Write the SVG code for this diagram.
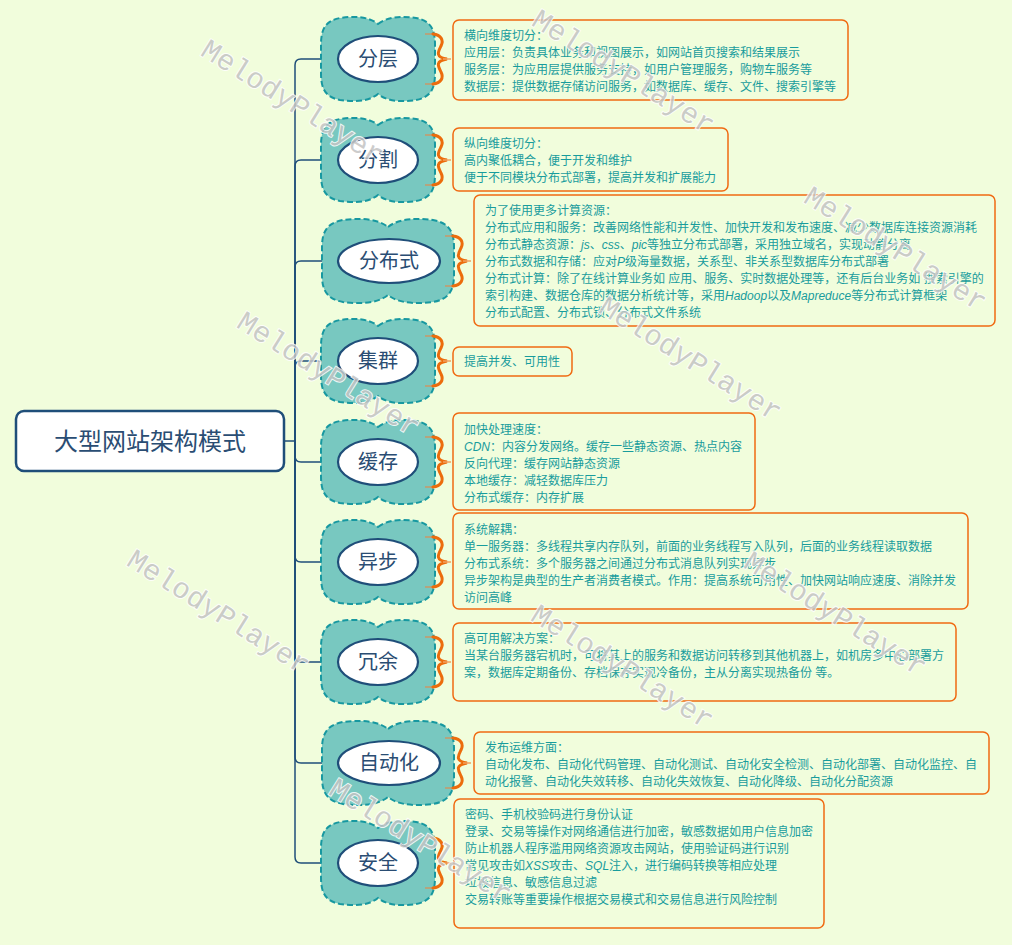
<svg xmlns="http://www.w3.org/2000/svg" width="1012" height="945" viewBox="0 0 1012 945">
<style>
.bg{fill:#f1fddc}
.cloud{fill:#78c8c0;stroke:#1798a0;stroke-width:2;stroke-dasharray:6 3}
.ell{fill:#fff;stroke:#1f4e79;stroke-width:2.2}
.lbl{font-family:"Noto Sans CJK SC",sans-serif;font-size:20px;fill:#2a4d73;text-anchor:middle}
.root{fill:#fff;stroke:#1f4e79;stroke-width:2.5}
.rlbl{font-family:"Noto Sans CJK SC",sans-serif;font-size:24px;fill:#2a4d73;text-anchor:middle}
.box{fill:#f1fddc;stroke:#f06a12;stroke-width:1.5}
.txt{font-family:"Liberation Sans","Noto Sans CJK SC",sans-serif;font-size:12px;fill:#189c9c}
.brace{fill:none;stroke:#ec6c0c;stroke-width:3;stroke-linecap:round}
.tick{fill:none;stroke:#c89868;stroke-width:1.5}
.conn{fill:none;stroke:#1f4e79;stroke-width:1.5}
.wm{font-family:"Liberation Mono",monospace;font-size:29px;fill:#c4c4c4;stroke:#ffffff;stroke-width:2;paint-order:stroke;opacity:0.85;text-anchor:middle}
i,.it{font-style:italic}
</style>
<defs>
<path id="cloud2" d="M0,-35 C10,-43 25,-43 38,-41 C54,-38 57,-28 57,-14 L57,14 C57,28 54,38 38,41 C25,43 10,43 0,35 C-10,43 -25,43 -38,41 C-54,38 -57,28 -57,14 L-57,-14 C-57,-28 -54,-38 -38,-41 C-25,-43 -10,-43 0,-35 Z"/>
<path id="cloud3" d="M0,-34 C11,-43 30,-43 45,-41 C62,-38 66,-28 66,-14 L66,14 C66,28 62,38 45,41 C30,43 11,43 0,34 C-11,43 -30,43 -45,41 C-62,38 -66,28 -66,14 L-66,-14 C-66,-28 -62,-38 -45,-41 C-30,-43 -11,-43 0,-34 Z"/>
<g id="brace">
<path class="tick" d="M-8,-25 H0 M-8,25 H0"/>
<path class="brace" d="M0,-25 C8,-24 11,-19 8,-13 C5,-7 2,-2 14,0 C2,2 5,7 8,13 C11,19 8,24 0,25"/>
<path class="tick" d="M10,0 H18" style="stroke:#f0a060"/>
</g>
</defs>
<rect class="bg" x="0" y="0" width="1012" height="945"/>

<g id="connectors">
<path class="conn" d="M284,441 H295"/>
<path class="conn" d="M295,441 V65 Q295,59 301,59 H338"/>
<path class="conn" d="M295,441 V166 Q295,160 301,160 H338"/>
<path class="conn" d="M295,441 V267 Q295,261 301,261 H338"/>
<path class="conn" d="M295,441 V367 Q295,361 301,361 H338"/>
<path class="conn" d="M295,441 V456 Q295,462 301,462 H338"/>
<path class="conn" d="M295,441 V556 Q295,562 301,562 H338"/>
<path class="conn" d="M295,441 V656 Q295,662 301,662 H338"/>
<path class="conn" d="M295,441 V757 Q295,763 301,763 H338"/>
<path class="conn" d="M295,441 V857 Q295,863 301,863 H338"/>
</g>

<g id="root">
<rect class="root" x="16" y="411" width="268" height="60" rx="8"/>
<text class="rlbl" x="150" y="450">大型网站架构模式</text>
</g>

<g id="node-fenceng">
<use href="#cloud2" x="378" y="59" class="cloud"/>
<ellipse class="ell" cx="378" cy="59" rx="40" ry="23"/>
<text class="lbl" x="378" y="66">分层</text>
<use href="#brace" x="433" y="59"/>
<rect class="box" x="453" y="20" width="395" height="80" rx="6"/>
<text class="txt" x="464" y="40">横向维度切分：</text>
<text class="txt" x="464" y="57">应用层：负责具体业务和视图展示，如网站首页搜索和结果展示</text>
<text class="txt" x="464" y="74">服务层：为应用层提供服务支持，如用户管理服务，购物车服务等</text>
<text class="txt" x="464" y="91">数据层：提供数据存储访问服务，如数据库、缓存、文件、搜索引擎等</text>
</g>

<g id="node-fenge">
<use href="#cloud2" x="378" y="160" class="cloud"/>
<ellipse class="ell" cx="378" cy="160" rx="40" ry="23"/>
<text class="lbl" x="378" y="167">分割</text>
<use href="#brace" x="433" y="160"/>
<rect class="box" x="453" y="128" width="275" height="63" rx="6"/>
<text class="txt" x="464" y="148">纵向维度切分：</text>
<text class="txt" x="464" y="165">高内聚低耦合，便于开发和维护</text>
<text class="txt" x="464" y="182">便于不同模块分布式部署，提高并发和扩展能力</text>
</g>

<g id="node-fenbushi">
<use href="#cloud3" x="388" y="261" class="cloud"/>
<ellipse class="ell" cx="389" cy="261" rx="51" ry="22"/>
<text class="lbl" x="389" y="268">分布式</text>
<use href="#brace" x="453" y="261"/>
<rect class="box" x="474" y="195" width="521" height="131" rx="6"/>
<text class="txt" x="485" y="215">为了使用更多计算资源：</text>
<text class="txt" x="485" y="232">分布式应用和服务：改善网络性能和并发性、加快开发和发布速度、减少数据库连接资源消耗</text>
<text class="txt" x="485" y="249">分布式静态资源：<tspan class="it">js</tspan>、<tspan class="it">css</tspan>、<tspan class="it">pic</tspan>等独立分布式部署，采用独立域名，实现动静分离</text>
<text class="txt" x="485" y="266">分布式数据和存储：应对<tspan class="it">P</tspan>级海量数据，关系型、非关系型数据库分布式部署</text>
<text class="txt" x="485" y="283">分布式计算：除了在线计算业务如 应用、服务、实时数据处理等，还有后台业务如 搜索引擎的</text>
<text class="txt" x="485" y="300">索引构建、数据仓库的数据分析统计等，采用<tspan class="it">Hadoop</tspan>以及<tspan class="it">Mapreduce</tspan>等分布式计算框架</text>
<text class="txt" x="485" y="317">分布式配置、分布式锁、分布式文件系统</text>
</g>

<g id="node-jiqun">
<use href="#cloud2" x="378" y="361" class="cloud"/>
<ellipse class="ell" cx="378" cy="361" rx="40" ry="23"/>
<text class="lbl" x="378" y="368">集群</text>
<use href="#brace" x="433" y="361"/>
<rect class="box" x="453" y="347" width="119" height="29" rx="6"/>
<text class="txt" x="464" y="366">提高并发、可用性</text>
</g>

<g id="node-huancun">
<use href="#cloud2" x="378" y="462" class="cloud"/>
<ellipse class="ell" cx="378" cy="462" rx="40" ry="23"/>
<text class="lbl" x="378" y="469">缓存</text>
<use href="#brace" x="433" y="462"/>
<rect class="box" x="453" y="413" width="302" height="97" rx="6"/>
<text class="txt" x="464" y="434">加快处理速度：</text>
<text class="txt" x="464" y="451"><tspan class="it">CDN</tspan>：内容分发网络。缓存一些静态资源、热点内容</text>
<text class="txt" x="464" y="468">反向代理：缓存网站静态资源</text>
<text class="txt" x="464" y="485">本地缓存：减轻数据库压力</text>
<text class="txt" x="464" y="502">分布式缓存：内存扩展</text>
</g>

<g id="node-yibu">
<use href="#cloud2" x="378" y="562" class="cloud"/>
<ellipse class="ell" cx="378" cy="562" rx="40" ry="23"/>
<text class="lbl" x="378" y="569">异步</text>
<use href="#brace" x="433" y="562"/>
<rect class="box" x="453" y="513" width="515" height="96" rx="6"/>
<text class="txt" x="464" y="534">系统解耦：</text>
<text class="txt" x="464" y="551">单一服务器：多线程共享内存队列，前面的业务线程写入队列，后面的业务线程读取数据</text>
<text class="txt" x="464" y="568">分布式系统：多个服务器之间通过分布式消息队列实现异步</text>
<text class="txt" x="464" y="585">异步架构是典型的生产者消费者模式。作用：提高系统可用性、加快网站响应速度、消除并发</text>
<text class="txt" x="464" y="602">访问高峰</text>
</g>

<g id="node-rongyu">
<use href="#cloud2" x="378" y="662" class="cloud"/>
<ellipse class="ell" cx="378" cy="662" rx="40" ry="23"/>
<text class="lbl" x="378" y="669">冗余</text>
<use href="#brace" x="433" y="662"/>
<rect class="box" x="453" y="623" width="503" height="78" rx="6"/>
<text class="txt" x="464" y="643">高可用解决方案：</text>
<text class="txt" x="464" y="660">当某台服务器宕机时，可将其上的服务和数据访问转移到其他机器上，如机房多中心部署方</text>
<text class="txt" x="464" y="677">案，数据库定期备份、存档保存实现冷备份，主从分离实现热备份 等。</text>
</g>

<g id="node-zidonghua">
<use href="#cloud3" x="388" y="763" class="cloud"/>
<ellipse class="ell" cx="389" cy="763" rx="51" ry="22"/>
<text class="lbl" x="389" y="770">自动化</text>
<use href="#brace" x="453" y="763"/>
<rect class="box" x="474" y="732" width="515" height="62" rx="6"/>
<text class="txt" x="485" y="752">发布运维方面：</text>
<text class="txt" x="485" y="769">自动化发布、自动化代码管理、自动化测试、自动化安全检测、自动化部署、自动化监控、自</text>
<text class="txt" x="485" y="786">动化报警、自动化失效转移、自动化失效恢复、自动化降级、自动化分配资源</text>
</g>

<g id="node-anquan">
<use href="#cloud2" x="378" y="863" class="cloud"/>
<ellipse class="ell" cx="378" cy="863" rx="40" ry="23"/>
<text class="lbl" x="378" y="870">安全</text>
<use href="#brace" x="433" y="863"/>
<rect class="box" x="454" y="799" width="370" height="129" rx="6"/>
<text class="txt" x="465" y="819">密码、手机校验码进行身份认证</text>
<text class="txt" x="465" y="836">登录、交易等操作对网络通信进行加密，敏感数据如用户信息加密</text>
<text class="txt" x="465" y="853">防止机器人程序滥用网络资源攻击网站，使用验证码进行识别</text>
<text class="txt" x="465" y="870">常见攻击如<tspan class="it">XSS</tspan>攻击、<tspan class="it">SQL</tspan>注入，进行编码转换等相应处理</text>
<text class="txt" x="465" y="887">垃圾信息、敏感信息过滤</text>
<text class="txt" x="465" y="904">交易转账等重要操作根据交易模式和交易信息进行风险控制</text>
</g>

<g id="watermarks">
<text class="wm" x="292" y="111" transform="rotate(32 292 103)">MelodyPlayer</text>
<text class="wm" x="623" y="81" transform="rotate(32 623 73)">MelodyPlayer</text>
<text class="wm" x="895" y="258" transform="rotate(32 895 250)">MelodyPlayer</text>
<text class="wm" x="328" y="383" transform="rotate(32 328 375)">MelodyPlayer</text>
<text class="wm" x="690" y="368" transform="rotate(32 690 360)">MelodyPlayer</text>
<text class="wm" x="218" y="621" transform="rotate(32 218 613)">MelodyPlayer</text>
<text class="wm" x="835" y="623" transform="rotate(32 835 615)">MelodyPlayer</text>
<text class="wm" x="622" y="676" transform="rotate(32 622 668)">MelodyPlayer</text>
<text class="wm" x="420" y="850" transform="rotate(32 420 842)">MelodyPlayer</text>
</g>
</svg>
